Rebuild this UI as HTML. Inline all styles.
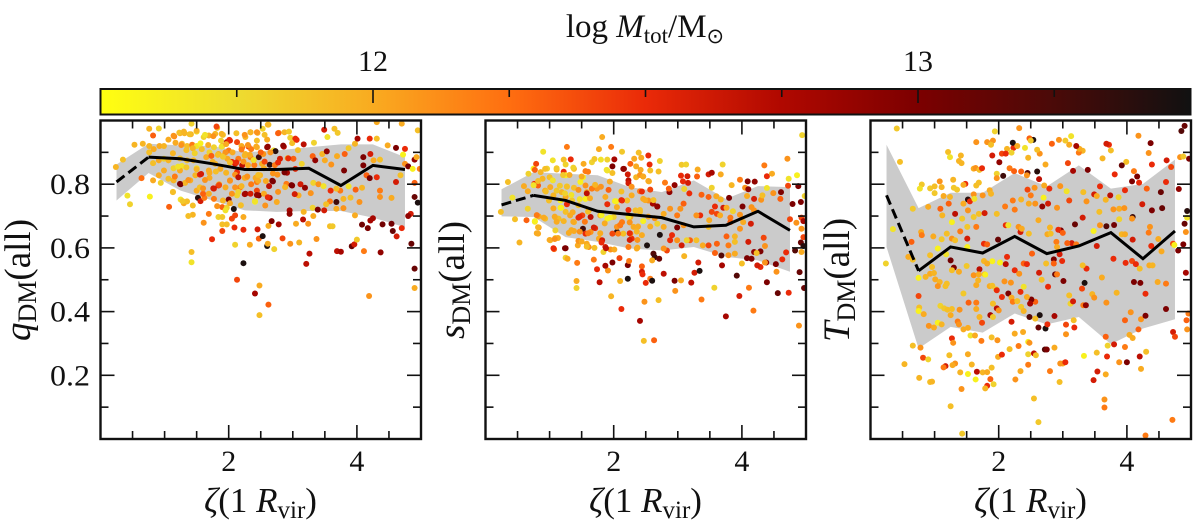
<!DOCTYPE html>
<html lang="en">
<head>
<meta charset="utf-8">
<title>Dark matter shape versus zeta</title>
<style>
html,body{margin:0;padding:0;background:#fff;}
svg{display:block;font-family:"Liberation Serif","DejaVu Serif",serif;fill:#111;}
</style>
</head>
<body>
<svg id="figure" xmlns="http://www.w3.org/2000/svg" width="1200" height="526" viewBox="0 0 1200 526">
<defs>
<linearGradient id="cmap" x1="0" x2="1" y1="0" y2="0">
<stop offset="0" stop-color="#ffff10"/>
<stop offset="0.125" stop-color="#eedc30"/>
<stop offset="0.25" stop-color="#f9ab20"/>
<stop offset="0.375" stop-color="#ff6e10"/>
<stop offset="0.5" stop-color="#ea2a08"/>
<stop offset="0.625" stop-color="#b00800"/>
<stop offset="0.75" stop-color="#7c0000"/>
<stop offset="0.875" stop-color="#4a0a08"/>
<stop offset="1" stop-color="#111111"/>
</linearGradient>
</defs>
<text x="645" y="37" text-anchor="middle" font-size="33">log <tspan font-style="italic">M</tspan><tspan font-size="23" dy="6">tot</tspan><tspan dy="-6">/M</tspan><tspan font-size="21" dy="6" font-family="'DejaVu Sans',sans-serif">⊙</tspan></text>
<rect x="100.5" y="89" width="1090" height="25.5" fill="url(#cmap)" stroke="#111" stroke-width="2"/>
<g id="colorbar-ticks"></g>
<g id="panels"></g>
</svg>
<script>
const colorbarTicks = [11.75,12,12.25,12.5,12.75,13,13.25];
const colorbarLabels = ['',"12",'','','',"13",''];
const xTicks = [0.5,1,1.5,2,2.5,3,3.5,4,4.5];
const xMajorLabels = ["2","4"];
const yTicks = [0.1,0.2,0.3,0.4,0.5,0.6,0.7,0.8,0.9];
const yMajorLabels = ["0.2","0.4","0.6","0.8"];
const binCenters = [0.25,0.75,1.25,1.75,2.25,2.75,3.25,3.75,4.25,4.75];

const qMedian = [.807,.885,.88,.864,.846,.846,.85,.796,.859,.846];
const qUpper = [.862,.927,.922,.92,.90,.906,.916,.925,.925,.885];
const qLower = [.749,.835,.78,.749,.718,.713,.716,.716,.695,.665];
const sMedian = [.735,.765,.749,.715,.705,.695,.666,.671,.715,.655];
const sUpper = [.784,.838,.833,.828,.791,.775,.812,.754,.794,.791];
const sLower = [.699,.697,.634,.619,.598,.592,.603,.572,.561,.525];
const tMedian = [.765,.528,.603,.584,.636,.582,.606,.648,.566,.653];
const tUpper = [.924,.725,.773,.773,.835,.793,.859,.786,.801,.877];
const tLower = [.603,.284,.352,.334,.394,.36,.383,.298,.347,.376];

const qZeta = [
.24,.35,.53,.66,.76,.91,.82,.64,.42,.46,.77,.76,.76,.83,.92,.99,1.06,1.15,1.24,1.31,
1.41,1.5,1.42,1.17,1.27,1.35,1.43,1.5,.82,.91,.99,1.06,1.14,1.23,1.27,1.35,1.45,1.5,.82,.91,
.94,.99,1.06,1.14,1.24,1.25,1.32,1.4,1.48,1.55,1.13,1.25,1.3,1.35,1.44,1.5,1.52,1.56,1.62,1.07,
1.44,1.37,1.61,1.42,1.42,
1.61,1.69,1.82,1.79,1.91,1.88,2.02,1.97,1.77,1.84,1.92,2,2.13,2.26,2.34,2.45,2.53,2.62,2.44,2.6,
2.21,2.31,2.44,2.6,2.26,2.34,2.47,2.54,2.7,2.73,1.79,1.87,1.69,2.1,2.21,2.39,2.52,2.64,2.02,2.13,
2.28,2.18,2.44,2.49,2.63,2.69,1.77,1.84,1.69,1.77,1.91,2,2.13,2.26,2.34,2.44,2.47,1.9,1.82,1.97,
2.08,1.95,2.19,2.41,2.64,2.57,2.75,1.69,1.84,1.9,2.1,2.05,2.23,1.9,1.97,1.9,2.09,2.23,2.45,2.62,
2.67,2.78,1.74,2.1,2.33,2.47,2.53,2.6,2.61,2.71,2.13,2.23,2.48,2.41,2.62,2.48,3.21,4.19,4.9,4.9,
2.78,2.87,2.96,3.04,2.99,2.86,3.17,3.33,3.49,3.65,3.7,3.54,2.92,3.01,3.14,3.04,2.91,3.31,3.35,3.46,
3.53,3.5,3.6,3.69,3.81,3.8,3.87,3.97,4.01,4.1,4.2,4.31,4.21,4.36,4.48,4.61,4.75,4.7,4.31,4.95,
4.1,4.26,4.15,4.2,4.31,4.36,4.36,4.54,4.61,4.72,4.75,4.8,4.87,4.68,4.9,4.93,4.98,4.9,4.9,4.95,
4.84,4.8,4.85,4.56,4.62,4.7,4.4,4.54,4.08,4.17,4.21,4.25,3.97,4.04,3.98,4.08,3.87,3.79,3.9,3.68,
3.58,3.74,3.68,3.59,3.79,3.68,3.52,3.12,3.19,2.99,2.9,2.88,3.09,3.28,3.32,3.4,3.48,2.95,2.95,3.17,
3.31,3.39,3.49,3.32,3.24,3.05,3.16,3.58,3.62,3.37,3.1,2.96,2.84,3.26,3.69,3.75,3.92,3.96,4,4.11,4.37,
1.58,1.65,1.7,1.75,1.8,1.9,1.95,1.98,2.05,2.06,2.1,2.15,2.2,2.25,2.3,2.35,2.4,2.42,2.5,2.55,
2.58,2.65,2.72,2.76,2.8,1.7,1.55,1.6,1.85,1.95,2.05,2.1,2.25,2.35,2.55,
1.14,1.23,1.3,1.39,1.5,1.63,1.76,1.81,1.89,2.01,2.12,2.25,2.34,2.44,2.56,2.61,2.77,2.94,3.06,
1.26,1.34,1.44,1.56,1.68,1.89,1.96,2.2,2.3,2.43,2.61,2.85,
1.13,1.24,1.47,1.73,1.83,1.91,2.02,2.12,2.23,2.33,2.39,2.56,2.77,2.93,3.08,
1.21,1.34,1.5,1.57,1.7,1.96,2.15,2.29,2.46,2.69,2.87,
1.16,1.24,1.37,1.63,1.76,1.85,2.02,2.2,2.46,2.68,2.98,
1.13,1.28,1.6,2.15,2.25,2.44,2.61,2.77,3.03,2.02,2.41];
const qValues = [
.854,.877,.924,.927,.974,.975,.953,.819,.764,.737,.761,.92,.90,.91,.92,.92,.94,.95,.96,.96,
.957,.965,.99,.93,.927,.92,.924,.92,.866,.875,.88,.875,.85,.85,.857,.875,.875,.85,.812,.828,
.804,.843,.817,.812,.843,.80,.804,.812,.828,.83,.775,.752,.74,.746,.733,.78,.757,.747,.757,.729,
.704,.70,.679,.587,.555,
.948,.953,.977,.958,.955,.937,.937,.932,.916,.895,.89,.906,.932,.948,.963,.961,.974,.987,.937,.94,
.916,.918,.916,.916,.895,.885,.885,.895,.906,.904,.864,.848,.843,.864,.859,.875,.864,.861,.812,.838,
.822,.79,.807,.828,.794,.809,.786,.796,.77,.754,.749,.752,.765,.77,.77,.78,.765,.728,.731,.726,
.722,.718,.734,.745,.757,.733,.744,.707,.697,.697,.702,.692,.697,.674,.674,.653,.664,.657,.658,.669,
.684,.674,.627,.61,.61,.629,.637,.606,.613,.596,.50,.552,.482,.457,.422,.389,.55,.449,.474,.535,
.961,.963,.946,.943,.929,.918,.925,.93,.971,.974,.961,.948,.882,.88,.864,.848,.836,.888,.875,.895,
.903,.875,.862,.888,.895,.843,.913,.927,.943,.885,.943,.943,.895,.877,.922,.914,.911,.99,.995,.969,
.859,.875,.828,.819,.822,.78,.76,.757,.807,.893,.864,.856,.848,.828,.877,.885,.848,.804,.76,.742,
.707,.70,.613,.653,.636,.662,.674,.676,.673,.662,.686,.693,.702,.744,.783,.789,.793,.754,.758,.744,
.746,.78,.786,.78,.725,.723,.737,.8,.789,.796,.801,.791,.765,.772,.804,.8,.794,.718,.707,.713,
.726,.72,.718,.7,.676,.676,.689,.668,.668,.628,.617,.613,.63,.582,.59,.588,.605,.611,.626,.59,.586,
.91,.885,.9,.87,.84,.92,.9,.88,.87,.9,.83,.88,.92,.89,.86,.91,.86,.82,.9,.85,
.81,.9,.86,.83,.88,.82,.79,.77,.8,.79,.77,.79,.82,.8,.77,
.952,.962,.965,.957,.968,.955,.951,.981,.958,.939,.96,.955,.963,.963,.955,.987,.96,.965,.939,
.923,.907,.913,.928,.923,.918,.926,.909,.923,.918,.918,.921,
.897,.881,.897,.889,.892,.886,.868,.868,.871,.892,.876,.871,.868,.881,.907,
.855,.853,.847,.832,.836,.836,.822,.824,.829,.834,.837,
.824,.801,.813,.813,.787,.797,.811,.794,.811,.811,.797,
.776,.747,.787,.776,.769,.766,.759,.776,.769,.74,.747];
const qMass = [
11.95,11.9,11.95,11.95,11.95,11.8,12.3,12.25,11.7,11.8,11.6,11.95,11.9,12,12,11.95,12,12.15,12,11.95,
11.95,11.7,11.8,12,11.95,11.9,12.2,11.7,11.9,12,11.8,11.95,11.8,11.7,11.7,11.9,11.95,11.7,12,12,
11.8,12,11.9,11.95,12,13,11.95,12,11.95,12.5,11.95,11.7,12,11.9,11.9,12,13.4,12.6,12.2,12.3,
11.95,11.9,12.1,11.9,11.7,
11.8,11.95,11.9,11.95,11.9,11.8,12.5,12.7,11.8,12,11.85,12.2,12.4,11.95,12.1,11.95,11.8,11.85,11.9,12,
12.3,12.4,11.95,12.9,11.95,12.2,13.3,12.1,11.7,13.4,11.95,12,12,12.6,12.7,11.9,12,13.4,12,12.5,
12,12.2,12.2,11.95,12.7,13,12.5,12.6,12,12.2,11.95,13,11.8,12.9,12.6,12.4,13,12.3,12.1,11.8,
13.45,11.7,11.9,11.6,12.7,12.1,12,12.2,11.8,11.85,12.4,12.4,12,11.9,11.9,12.4,12.5,12.5,12.6,12,
13,12.8,12.5,11.8,12,12.3,13.45,13.45,12,11.8,12.4,13.45,12,12.8,12.3,11.9,12.7,12.1,12,13.1,
12.1,11.95,11.8,12.5,11.9,12.7,12.7,11.8,12.6,11.9,11.85,11.7,11.95,12.3,11.8,12.5,12.8,12.3,12.9,11.95,
12.9,12,12.1,12,12.3,13,11.85,11.95,12.8,13,12.5,11.9,12.6,11.9,12,13,12.5,12,12,11.9,
13,12,12.3,13,12.5,12.2,12.1,12,12.6,11.6,12.1,13,11.6,11.9,12.9,12,12.2,12.3,13.1,13.45,
12.6,12.9,13.1,13.1,12.6,12.5,13.05,13.05,13.05,13,12.8,12.8,12,12.1,12.3,11.95,11.7,11.95,11.9,13.3,
12.2,12.2,11.9,12.5,12.1,12,11.9,12.6,12.9,13,12.2,11.95,12,12.1,11.8,12.1,11.7,12.8,12.9,11.95,
11.8,13,12.6,12,12.1,12,12.7,11.9,11.85,12.1,11.95,12.1,12.4,12.7,12.7,12.8,13.1,12.6,11.85,12.2,12.9,
11.9,12,11.8,11.95,11.9,12,12.1,12,12.5,12,12.1,12.2,12,11.95,12,12.2,12.2,12,12.3,12,
12,12.1,12.2,12.1,12.6,12,11.9,12.3,12,12,12.1,12.1,12,12.2,12,
12.1,11.9,11.95,11.9,11.95,11.7,12.1,12.4,11.95,12.5,11.9,12.1,11.95,12.1,11.9,11.95,12.3,11.85,12.5,
12.1,11.9,11.95,11.6,12,11.7,12,12.2,12.1,12,12.9,12.9,
11.95,11.9,11.8,12.3,11.9,11.85,11.9,12.5,12.1,12,11.7,12.4,12.5,12.5,11.9,
11.7,11.85,11.95,12.6,12,11.95,12.7,12.1,11.9,12.1,13,
12.2,13,12.1,12.1,12.6,12.4,12.1,11.95,12,13,13,
11.9,11.85,12.1,11.8,12.8,12.9,12.5,12.1,12.6,12,11.7];

const sZeta = [
.24,.35,.42,.46,.53,.66,.64,.77,.6,.66,.67,.75,.79,.9,.76,.82,.83,.82,.83,.93,
1.05,1.11,1.22,1.25,1.33,1.27,.96,1,.89,.86,1.22,1.25,1.38,1.53,1.52,1.56,1.66,1.7,1.77,1.82,
1.96,1.8,1.9,2.01,1.98,1.9,1.98,2.13,2.16,2.26,2.32,2.39,2.43,2.54,2.56,2.72,2.57,2.7,2.35,2.42,
2.22,2.23,2.35,2.46,2.55,3.06,3.13,3.31,3.7,4.35,4.71,4.94,4.86,4.73,3.05,3.15,3.3,3.48,3.53,3.67,
4.39,4.47,3.08,3.16,3.1,3.18,2.8,2.95,2.87,2.86,3.84,3.97,4.09,4.2,4.05,4.1,4.39,4.49,4.61,4.72,
4.6,4.88,4.98,4.79,4.92,4.93,4.75,4.85,4.93,4.96,4.96,4.92,4.96,4.83,4.93,4.69,4.63,4.53,4.54,4.38,
4.29,4.24,4.36,4.36,4.34,4.29,4.19,4.15,4.08,4.23,4.1,4.14,4.19,4.15,4.01,3.97,3.86,3.82,4.19,4.3,
4.32,4.08,3.8,3.71,3.76,3.6,3.67,3.48,3.53,3.37,3.58,3.53,3.61,3.66,3.49,3.35,3.29,3.09,3.04,2.99,
2.88,2.78,2.68,2.61,2.54,2.46,2.41,2.57,2.28,2.21,2.13,2.04,2.05,1.9,1.87,1.74,1.66,1.58,1.56,1.48,
1.38,1.27,1.19,1.11,1.01,.93,.99,1.06,1.17,1.25,1.35,1.45,1.56,1.61,1.18,1.25,1.09,1.14,1.22,1.32,
1.45,1.38,1.51,1.64,1.79,1.9,2,2.13,2.26,2.41,1.09,1.01,1.09,1.13,1.3,1.38,1.52,1.56,1.71,1.64,
1.44,1.58,1.61,1.77,1.7,1.82,1.87,1.84,1.95,2.01,2.05,1.98,2.1,2.05,1.07,1.25,1.25,1.28,1.43,1.74,
1.69,1.91,1.87,1.98,2.09,2.22,2.24,1.42,1.42,1.78,2.1,2.22,1.96,2.12,2.41,2.48,2.47,2.63,2.7,2.44,
2.44,2.45,2.57,2.6,2.5,2.62,2.64,2.71,2.6,2.72,2.52,2.88,2.78,2.95,3.05,2.96,3.21,3.26,3.34,3.32,
3.1,3.57,3.37,3.92,3.96,4.11,4.18,3.75,4.39,4.56,4.73,4.89,4.97,4.9,3.69,3.68,3.58,3.79,3.89,4,
3.61,3.76,3.89,3.89,3.79,3.29,3.39,3.48,3.19,3.14,3.06,2.99,2.91,2.83,2.78,2.28,2.36,2.23,2.26,2.44,
2.15,2.07,2.31,2.34,2.23,2.68,2.78,2.99,3.09,3.48,3.82,4.02,3.97,
.77,.93,1.11,1.37,1.6,1.89,2.15,2.41,
.82,1.05,1.21,1.31,1.5,1.71,1.94,2.23,2.46,2.54,
.75,.94,1.16,1.27,1.45,1.58,1.8,1.92,2.12,2.28,2.44,2.68,
1.24,1.34,1.47,1.63,2.02,2.12,2.49,2.62,
.8,.91,.77,1.06,1.17,1.27,1.36,1.47,1.6,1.81,1.94,2.23,2.41,2.46,2.54,2.64,
.82,.8,1.08,1.11,1.37,1.55,1.69,1.86,2.1,2.25,2.38,2.57,
1.34,1.47,1.6,1,1.08,1.45,1.79,2.25,2.36,2.25,2.37,1.5,1.06,1.24,1.58,1.81,1.88,2.37];
const sValues = [
.713,.807,.758,.69,.617,.723,.687,.682,.794,.778,.833,.849,.864,.902,.801,.796,.664,.645,.699,.692,
.875,.846,.877,.862,.878,.917,.849,.822,.817,.838,.839,.828,.848,.864,.822,.841,.869,.879,.91,.948,
.917,.877,.877,.878,.856,.843,.835,.902,.848,.864,.88,.899,.883,.89,.862,.873,.843,.84,.856,.845,
.831,.812,.822,.824,.809,.861,.862,.846,.862,.859,.88,.954,.828,.817,.827,.825,.824,.831,.836,.831,
.825,.833,.809,.804,.785,.771,.805,.797,.775,.786,.797,.814,.809,.808,.789,.784,.788,.772,.775,.795,
.754,.794,.763,.738,.744,.695,.69,.679,.66,.684,.634,.617,.606,.592,.587,.586,.564,.549,.525,.554,
.54,.545,.554,.606,.632,.589,.587,.566,.568,.584,.619,.676,.718,.728,.73,.704,.715,.695,.754,.751,
.765,.763,.757,.726,.726,.762,.752,.76,.789,.767,.73,.713,.707,.702,.687,.702,.702,.739,.723,.702,
.723,.707,.73,.739,.749,.754,.778,.783,.765,.749,.749,.746,.728,.737,.76,.786,.786,.775,.796,.807,
.789,.793,.775,.78,.791,.78,.749,.765,.749,.76,.749,.734,.754,.718,.726,.713,.695,.692,.684,.702,
.695,.681,.702,.697,.702,.692,.697,.681,.697,.713,.655,.624,.631,.631,.647,.653,.66,.645,.662,.65,
.608,.613,.603,.629,.6,.624,.603,.587,.595,.595,.65,.645,.671,.666,.596,.599,.569,.566,.553,.533,
.563,.529,.544,.554,.568,.546,.559,.496,.474,.492,.496,.503,.448,.408,.371,.431,.308,.31,.436,.542,
.525,.517,.503,.497,.49,.582,.571,.566,.561,.641,.608,.624,.519,.497,.498,.465,.491,.522,.528,.554,
.574,.475,.438,.513,.449,.475,.403,.385,.492,.458,.459,.356,.474,.524,.545,.576,.584,.577,.582,.551,
.613,.636,.636,.619,.608,.624,.608,.608,.624,.624,.608,.624,.64,.592,.598,.629,.598,.603,.645,.64,
.645,.645,.666,.718,.697,.676,.666,.664,.671,.666,.681,.681,.66,
.845,.848,.85,.852,.839,.845,.848,.829,
.81,.812,.829,.829,.824,.798,.808,.803,.824,.81,
.797,.777,.795,.792,.782,.771,.792,.782,.777,.792,.777,.73,
.771,.766,.753,.756,.747,.75,.75,.75,
.703,.695,.684,.724,.726,.737,.712,.698,.714,.703,.695,.719,.719,.684,.698,.693,
.665,.646,.698,.682,.682,.682,.664,.677,.672,.68,.667,.667,
.656,.651,.646,.625,.628,.622,.646,.646,.651,.625,.625,.62,.599,.599,.604,.617,.599,.601];
const sMass = [
11.9,11.9,11.7,11.9,11.95,11.8,12.3,11.7,12,12,11.8,11.6,12.4,11.7,12.5,12.3,12.1,12,12,11.9,
11.7,11.95,11.9,11.8,12.5,12.2,11.8,11.9,11.95,11.95,12.5,11.6,11.95,12,11.6,12.2,11.8,11.85,12,12,
12.2,11.7,11.8,12.8,13,11.7,11.9,11.85,12.9,12.3,12,11.9,12,12.5,12.5,11.8,11.9,11.9,12,12,
12.6,12.7,11.95,12,12,11.85,11.8,12,11.8,12.2,12.1,11.8,11.6,11.7,12.5,12.6,12.3,12.6,12.8,12,
12.5,12,12.5,12.6,11.8,12.5,12.2,12.9,12.9,12.3,11.95,12.2,13,12.9,12.1,12.9,11.7,12.1,13,12.4,
12.3,13,11.8,13,13,12.4,12.4,12.1,12.1,12.8,12.4,13.1,13.4,13.2,12,12.5,12.5,13,12.1,12.9,
12.5,12.6,12.1,12.1,12.4,13,12.9,13,13,11.9,12.6,12.6,12.1,12.1,13,12.1,11.8,12.2,12.6,12.1,
11.9,12,13,12.6,12,12,11.95,12.3,11.8,12.3,12.5,12.4,12.4,12,12,12.5,12.1,12.3,12.1,12.2,
12.1,12,13,12.8,12.1,12,12.2,12.4,12,11.9,12.5,11.6,12,12.5,12,12.1,12.2,12,12.1,11.6,
11.9,11.8,11.95,11.85,12,12,11.9,11.95,11.6,12,11.85,11.9,11.6,12.3,11.6,11.9,11.85,11.9,11.95,12,
12.5,11.95,12.4,12.7,12,11.6,11.8,12.2,12,11.9,11.8,11.9,11.85,12,12,12,13.3,12.5,12.5,12.1,
12,12,12.1,12,11.9,12.6,12.6,11.8,12.1,12,13.4,12.4,12.4,12.1,12.3,13,11.8,12,12.2,12.5,
12.2,12.1,12.8,13,12.4,13,12.2,12,11.8,12.7,11.95,13.45,11.95,12.5,12.8,12.1,11.9,12.3,11.9,12.3,
12.6,12.5,12.2,13.45,12.5,13.2,13.3,13.1,12,13.45,13.45,12.5,12.7,13,12,12.1,12.7,12.6,13.45,12.6,
11.95,11.8,12.2,13.2,12.6,12.2,12.2,12.8,13,13.1,12.5,12.1,13.1,13.1,12.8,13.2,12.3,12.1,12,11.9,
12.3,12.3,11.95,11.9,12.2,11.9,12,12.4,12.3,11.8,12.6,12.1,12.5,12.4,12.1,12.5,12,12.2,12.1,12,
11.9,12.2,12,11.9,11.7,11.8,12,13,12.1,11.9,12.3,12,12.1,
12.3,11.9,11.85,11.8,12.2,11.7,12.9,12.1,
11.9,11.7,11.85,12,12,11.95,12,12.6,12,12,
11.7,11.9,11.85,11.9,12.1,12.7,12.1,12.3,11.9,12.1,12.5,12.9,
11.8,11.7,11.7,12,11.6,12.5,12,11.9,
12.2,12,11.6,12,11.6,12.5,12,12.5,11.9,11.6,11.6,12.5,11.9,11.6,12,12.1,
11.95,12,12,12,12,12.2,12.6,12,12.2,12.1,12,12,
12,12.1,12.2,12,12.1,12.1,12,12.5,11.95,12.6,12.1,12,12.5,13,11.9,12.5,12.7,12];

const tZeta = [
.41,.46,.35,.24,.66,.64,.59,.66,.66,.53,.78,.82,.9,.76,.93,.96,.75,.75,.76,.75,
.83,.8,.77,.93,1,1.08,1.11,1,.9,.79,.8,.98,1.11,1.05,1.18,.93,.96,.93,.99,.86,
1.01,1.08,1.05,1.19,1.17,1.09,1.15,1.2,1.27,1.39,1.25,.91,.99,1.05,1.11,1.36,1.38,1.45,1.52,1.56,
1.63,1.73,1.27,1.29,1.89,1.98,1.23,1.32,1.28,1.17,1.14,1.52,1.58,1.4,1.52,1.66,1.75,1.82,1.89,1.87,
1.82,1.92,1.64,1.79,1.42,1.25,1.43,1.99,2.05,2.17,2.25,2.38,2.31,2.46,2.48,2.46,2.55,2.58,2.72,2.75,
2.87,2.46,2.34,2.26,2.8,2.55,2.62,2.95,3,2.96,3.04,3.05,3.18,3.05,3.17,3.33,3.53,3.69,3.7,3.67,
3.8,3.97,3.88,4,3.67,3.48,3.54,3.65,3.65,4.22,4.2,4.3,4.09,4.04,4.18,3.97,4.06,4.22,4.29,4.61,
4.71,4.29,4.72,4.75,4.93,4.94,4.96,4.92,4.8,4.72,4.74,4.88,4.92,4.9,4.94,4.94,4.83,4.88,4.97,4.9,
4.85,4.69,4.62,4.61,4.81,4.53,4.55,4.39,4.24,4.31,4.19,4.08,4.16,4.11,3.97,4.39,4.34,4.37,4.18,3.99,
3.92,3.81,3.62,3.75,3.72,3.68,3.39,3.16,3.08,3.31,3.25,3.26,3.21,3.13,3.04,2.94,3.1,2.83,2.73,2.64,
2.6,2.54,2.48,2.5,2.46,2.41,2.32,2.23,2.22,2.29,2.2,2.13,2.05,2.11,1.9,2.01,1.82,1.91,1.88,1.65,
1.94,1.21,1.24,1.41,1.38,1.42,1.61,1.64,1.7,1.74,1.97,2.07,1.97,2.17,2.24,2.35,2.45,2.44,2.6,2.63,
1.48,1.45,1.29,1.3,1.35,1.69,1.65,1.86,1.88,1.75,1.61,1.52,1.55,1.62,1.45,1.22,1.14,1.24,1.09,1.12,
1.32,1.27,1.43,1.52,1.61,1.69,1.78,1.97,2.1,2.25,2.22,2.35,2.45,2.56,2.5,2.47,2.57,2.62,2.7,2.68,
2.77,2.79,2.71,2.91,2.96,3.06,3.1,3.32,3.37,3.31,3.19,3.49,3.53,3.58,3.74,3.67,3.57,3.79,3.87,3.88,
3.96,3.58,3.88,3.8,3.68,4.09,4.08,4.36,4.34,4.09,3.92,3.97,3.53,3.48,3.14,3.07,2.97,2.93,3,2.8,
2.76,2.81,2.9,2.91,2.95,2.86,2.86,2.99,2.74,2.52,2.11,2.15,2.31,2.34,2.36,2.47,1.65,1.51,1.4,1.19,
1.27,1.32,1.51,1.51,1.77,1.82,1.99,2.13,1.9,2.02,2.11,1.5,1.25,1.3,1.27,1.38,1.77,1.82,1.7,1.78,
1.61,1.69,1.79,1.65,1.68,1.86,1.9,1.96,1.45,1.97,2.25,2.39,2.44,2.32,2.19,2.09,2.15,2.05,2.34,2.39,
2.63,2.67,2.77,2.57,2.51,2.49,2.44,2.2,2.22,2.29,2.35,2.39,2.48,2.64,2.57,2.62,2.73,2.76,2.87,2.2,
1.97,2,1.87,1.91,1.91,1.74,1.65,1.53,1.65,1.7,3.12,3.1,3.16,3.3,3.46,3.49,3.32,3.36,3.68,3.84,
4.11,4.21,4.29,4.48,4.61,3.61,3.34,3.01,2.88,2.91,3.37,3.31,3.98,4.08,4.14,4.2,4.35,4.4,4.38,4.54,
4.49,3.79,3.21];
const tValues = [
.975,.87,.659,.551,.723,.619,.572,.563,.293,.235,.287,.255,.25,.192,.179,.18,.506,.449,.413,.402,
.392,.799,.786,.787,.793,.809,.791,.772,.729,.65,.64,.636,.627,.598,.58,.577,.54,.519,.521,.509,
.501,.493,.48,.488,.48,.418,.41,.406,.408,.406,.389,.355,.35,.365,.36,.369,.36,.344,.349,.325,
.325,.308,.316,.302,.319,.31,.263,.237,.232,.229,.225,.266,.234,.209,.204,.211,.209,.21,.224,.188,
.167,.172,.187,.159,.157,.103,.017,.258,.265,.282,.331,.336,.292,.305,.302,.266,.269,.263,.281,.281,
.287,.233,.213,.187,.213,.127,.053,.179,.237,.237,.241,.329,.35,.359,.373,.261,.271,.259,.293,.321,
.297,.289,.241,.241,.203,.185,.212,.124,.099,.22,.259,.274,.317,.327,.344,.373,.398,.376,.387,.408,
.06,.011,.336,.321,.373,.344,.394,.522,.592,.613,.609,.611,.65,.676,.695,.716,.885,.887,.88,.983,
.967,.854,.875,.807,.785,.775,.725,.718,.737,.786,.805,.809,.824,.841,.781,.862,.898,.929,.952,.87,
.859,.831,.881,.906,.924,.927,.845,.842,.866,.905,.899,.911,.92,.951,.937,.939,.924,.927,.862,.896,
.908,.939,.944,.937,.883,.914,.976,.914,.93,.92,.899,.911,.896,.896,.89,.869,.932,.937,.924,.932,
.966,.901,.885,.89,.873,.866,.849,.851,.845,.85,.833,.826,.819,.85,.841,.84,.835,.828,.84,.816,
.801,.798,.814,.789,.783,.805,.796,.781,.77,.765,.768,.752,.746,.754,.739,.739,.763,.76,.723,.702,
.707,.681,.692,.718,.697,.707,.709,.707,.73,.72,.749,.752,.783,.789,.765,.739,.739,.687,.758,.73,
.739,.786,.796,.726,.794,.778,.749,.775,.746,.695,.674,.768,.763,.793,.765,.751,.713,.721,.759,.723,
.725,.671,.69,.672,.668,.697,.692,.666,.648,.626,.643,.643,.606,.653,.615,.615,.655,.657,.647,.664,
.643,.645,.619,.603,.58,.564,.551,.559,.551,.582,.671,.671,.666,.65,.66,.645,.666,.666,.652,.645,
.629,.624,.629,.603,.613,.611,.626,.572,.558,.554,.549,.543,.561,.538,.53,.525,.559,.551,.533,.517,
.514,.517,.516,.483,.498,.48,.481,.47,.457,.467,.53,.551,.549,.519,.491,.495,.457,.446,.462,.478,
.522,.5,.478,.431,.438,.425,.446,.444,.431,.433,.415,.402,.383,.389,.378,.35,.347,.36,.386,.368,
.41,.404,.389,.425,.383,.365,.428,.428,.408,.383,.425,.451,.432,.472,.455,.444,.42,.42,.428,.459,
.493,.49,.456,.493,.488,.507,.49,.496,.517,.517,.535,.545,.553,.559,.549,.535,.545,.545,.606,.589,
.628,.566,.611];
const tMass = [
11.85,11.9,11.7,11.8,11.85,12.3,12,11.9,11.9,11.95,12.1,12.4,11.8,11.95,11.9,11.95,11.6,12.4,11.9,11.6,
12,11.85,11.7,11.85,11.9,12.1,11.95,11.85,12,12,12.2,12,11.85,11.6,11.7,11.9,11.9,12,11.95,11.95,
12,11.95,12.1,11.9,11.9,11.8,11.85,11.9,11.9,12.1,12,12.1,12,11.6,11.95,12.2,12.1,12,12,11.7,
12,12.2,12.5,12.1,11.9,12.1,11.9,12.1,12,12.6,12.2,12,11.95,11.95,11.6,12.7,11.95,12,11.9,12.3,
12.5,11.8,11.6,11.95,12.1,11.9,11.85,12,12.5,11.9,12,12,12.2,11.6,12.1,11.8,12.7,11.9,13.2,13,
12,12.2,12,12.1,12.2,11.9,11.85,11.9,12,12.1,12.5,12.1,12.5,12.4,11.9,11.6,11.9,12.5,11.8,12.3,
12.6,12.2,12.1,13,12,12.6,12.6,12.1,12.2,12,12.7,11.9,12,12,12.3,12.3,12.1,12.1,13,13,
12.2,12.2,12.6,12.4,12.3,12.1,12.2,12.8,13,12.4,11.6,13,12.1,13.1,11.7,13.4,12.1,11.85,13,13.1,
13.2,12.4,12.6,12.5,12.9,13.1,13.1,13,12.6,12.3,12.5,13,13,12.2,12.5,12.5,12.1,13,12.1,11.9,
13.1,12.5,11.95,11.9,12.5,12.6,13,12.8,12.4,11.95,12.2,12,12.8,11.7,11.85,12.1,12,12.3,12,12.1,
11.9,13.45,12.3,11.85,11.95,11.7,12.1,12.5,13.45,12,11.8,11.95,12.4,12.5,12.6,12.9,12.1,12.1,11.9,12.1,
11.8,11.9,11.7,11.95,11.95,11.95,12,12.1,11.9,12.5,11.8,13.3,12.1,12.2,12.3,12.3,13.2,12.1,13.4,12.7,
12.5,12,11.95,11.85,11.85,11.9,11.9,12,11.95,12.1,12.1,13.4,12.5,11.7,12,12.3,12,11.95,12.3,11.95,
12.7,11.6,11.85,12.1,11.85,11.9,12.6,11.9,12.2,12.2,12.2,11.95,12.4,12.1,12.2,12,12.1,12,11.6,12.9,
12.6,12.5,12,12.1,12.1,11.7,12.4,11.9,12.1,12.6,13.1,12.6,12,12.5,12.7,11.95,11.9,12.1,11.8,12,
12.1,12.1,11.8,13.05,13.2,13.3,12.1,12.1,12.2,12.6,11.95,12,12.6,11.6,12.6,12.3,13,12.5,12.3,11.95,
12,11.9,12.2,12,12.6,13,12.3,12.5,11.9,12.3,12.5,11.7,12.1,12.6,12,11.9,12.2,11.85,12.2,11.9,
12.1,11.9,12.6,11.6,12.5,12.3,13.1,12.5,11.6,11.6,12.7,11.85,13.05,13,11.9,12,11.95,12,12.7,12,
12.1,12,11.6,12,11.95,12,11.9,11.8,11.85,12.5,12.5,12.3,12.5,12.1,12.1,12.1,13,12.5,12.5,11.7,
12.6,11.9,12.5,12.3,13,12.8,12,12,12.2,11.9,11.85,11.95,13.2,13.45,11.9,13.1,13.45,12.5,12.8,12.6,
12.7,12.1,12.8,11.9,11.85,12.4,12.2,12.3,12,11.95,11.8,11.9,12.6,12.4,11.95,12.1,12.2,12.9,12.1,11.95,
13,13,12.5,12,12.2,12,13.45,13,13.1,12.2,12.5,11.9,12.5,12.4,12.5,11.9,12,11.95,12.5,12,
12,12.5,12.2];

const panelTop = 120.5, panelBottom = 439, panelWidth = 320.5;
const massMin = 11.5, massMax = 13.5, cbLeft = 100.5, cbWidth = 1090;
const svgNS = 'http://www.w3.org/2000/svg';

function make(tag, attrs, parent) {
  const el = document.createElementNS(svgNS, tag);
  for (const k in attrs) el.setAttribute(k, attrs[k]);
  parent.appendChild(el);
  return el;
}
function massColor(m) {
  const stops = [[255,255,16],[238,220,48],[249,171,32],[255,110,16],[234,42,8],[176,8,0],[124,0,0],[74,10,8],[17,17,17]];
  let t = (m - massMin) / (massMax - massMin) * (stops.length - 1);
  t = Math.max(0, Math.min(stops.length - 1.001, t));
  const i = Math.floor(t), f = t - i;
  const c = stops[i].map((v, k) => Math.round(v + (stops[i + 1][k] - v) * f));
  return 'rgb(' + c.join(',') + ')';
}
function cbX(m) { return cbLeft + (m - massMin) / (massMax - massMin) * cbWidth; }

const cbGroup = document.getElementById('colorbar-ticks');
colorbarTicks.forEach((m, i) => {
  const isMajor = colorbarLabels[i] !== '';
  const tick = make('line', {x1: cbX(m), x2: cbX(m), y1: 89, y2: isMajor ? 103 : 97, stroke: '#111', 'stroke-width': 1.6}, cbGroup);
  
  
  if (isMajor) {
    const label = make('text', {x: cbX(m), y: 71, 'text-anchor': 'middle', 'font-size': 30}, cbGroup);
    label.textContent = colorbarLabels[i];
    
    
  }
});

const panelDefs = [
  {key: 'q', left: 100.5, zeta: qZeta, vals: qValues, mass: qMass, med: qMedian, up: qUpper, lo: qLower, symbol: 'q', titleX: 30},
  {key: 's', left: 485.5, zeta: sZeta, vals: sValues, mass: sMass, med: sMedian, up: sUpper, lo: sLower, symbol: 's', titleX: 464},
  {key: 't', left: 870.5, zeta: tZeta, vals: tValues, mass: tMass, med: tMedian, up: tUpper, lo: tLower, symbol: 'T', titleX: 849}
];
const root = document.getElementById('panels');
const defs = document.querySelector('defs');

panelDefs.forEach((p, idx) => {
  const xs = v => p.left + v * 64.1;
  const ys = v => panelBottom - v * (panelBottom - panelTop);
  const g = make('g', {}, root);
  
  

  const clip = make('clipPath', {id: 'clip-' + p.key}, defs);
  make('rect', {x: p.left, y: panelTop, width: panelWidth, height: panelBottom - panelTop}, clip);
  const plot = make('g', {'clip-path': 'url(#clip-' + p.key + ')'}, g);

  const bandPts = binCenters.map((x, i) => xs(x) + ',' + ys(p.up[i]))
    .concat(binCenters.map((x, i) => xs(x) + ',' + ys(p.lo[i])).reverse()).join(' ');
  const band = make('polygon', {points: bandPts, fill: '#cbcbcb'}, plot);
  
  

  const n = Math.min(p.zeta.length, p.vals.length, p.mass.length);
  for (let i = 0; i < n; i++) {
    const dot = make('circle', {cx: xs(p.zeta[i]), cy: ys(p.vals[i]), r: 3, fill: massColor(p.mass[i])}, plot);
    
    
  }

  const dashed = make('line', {x1: xs(binCenters[0]), y1: ys(p.med[0]), x2: xs(binCenters[1]), y2: ys(p.med[1]), stroke: '#000', 'stroke-width': 3, 'stroke-dasharray': '10 5'}, plot);
  
  
  const solidPts = binCenters.slice(1).map((x, i) => xs(x) + ',' + ys(p.med[i + 1])).join(' ');
  const solid = make('polyline', {points: solidPts, fill: 'none', stroke: '#000', 'stroke-width': 3, 'stroke-linejoin': 'miter'}, plot);
  
  

  xTicks.forEach(t => {
    const major = Number.isInteger(t / 2);
    const len = major ? 14 : 8;
    [[panelBottom, panelBottom - len], [panelTop, panelTop + len]].forEach(pair => {
      const tk = make('line', {x1: xs(t), x2: xs(t), y1: pair[0], y2: pair[1], stroke: '#111', 'stroke-width': 1.6}, g);
      
      
    });
    if (major) {
      const lab = make('text', {x: xs(t), y: 471, 'text-anchor': 'middle', 'font-size': 30}, g);
      lab.textContent = xMajorLabels[t / 2 - 1];
      
      
    }
  });
  yTicks.forEach((t, i) => {
    const major = i % 2 === 1;
    const len = major ? 14 : 8;
    const right = p.left + panelWidth;
    [[p.left, p.left + len], [right, right - len]].forEach(pair => {
      const tk = make('line', {x1: pair[0], x2: pair[1], y1: ys(t), y2: ys(t), stroke: '#111', 'stroke-width': 1.6}, g);
      
      
    });
    if (major && idx === 0) {
      const lab = make('text', {x: 90, y: ys(t) + 10, 'text-anchor': 'end', 'font-size': 30, textLength: 40, lengthAdjust: 'spacingAndGlyphs'}, g);
      lab.textContent = yMajorLabels[(i - 1) / 2];
      
      
    }
  });

  const frame = make('rect', {x: p.left, y: panelTop, width: panelWidth, height: panelBottom - panelTop, fill: 'none', stroke: '#111', 'stroke-width': 2.4}, g);
  
  

  const xt = make('text', {x: p.left + 160, y: 512, 'text-anchor': 'middle', 'font-size': 35}, g);
  
  
  const z = make('tspan', {'font-style': 'italic'}, xt); z.textContent = 'ζ';
  const o = make('tspan', {}, xt); o.textContent = '(1 ';
  const r = make('tspan', {'font-style': 'italic'}, xt); r.textContent = 'R';
  const vir = make('tspan', {'font-size': 25, dy: 6}, xt); vir.textContent = 'vir';
  const cl = make('tspan', {dy: -6}, xt); cl.textContent = ')';

  const yt = make('text', {transform: 'translate(' + p.titleX + ',280) rotate(-90)', 'text-anchor': 'middle', 'font-size': 37}, g);
  
  
  const sym = make('tspan', {'font-style': 'italic'}, yt); sym.textContent = p.symbol;
  const dm = make('tspan', {'font-size': 26, dy: 6}, yt); dm.textContent = 'DM';
  const all = make('tspan', {dy: -6}, yt); all.textContent = '(all)';
});
</script>
</body>
</html>
